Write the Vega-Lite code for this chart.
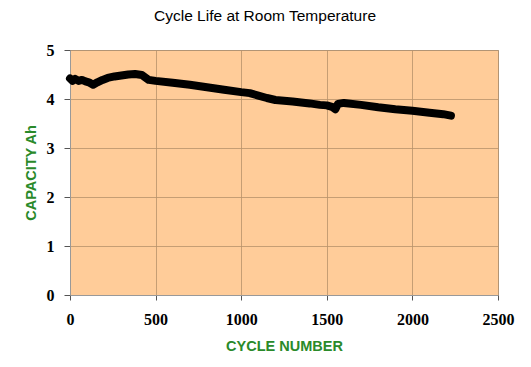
{
  "$schema": "https://vega.github.io/schema/vega-lite/v6.json",
  "width": 428,
  "height": 245,
  "autosize": "none",
  "padding": {"left": 70, "top": 50, "right": 33, "bottom": 72},
  "background": "white",
  "title": {
    "text": "Cycle Life at Room Temperature",
    "font": "Liberation Sans",
    "fontSize": 15.5,
    "fontWeight": "normal",
    "color": "black",
    "dx": -19,
    "offset": 18
  },
  "config": {
    "view": {"fill": "#FFCC99", "stroke": "#999999", "strokeWidth": 1}
  },
  "data": {
    "values": [
      {"cycle": 0, "capacity": 4.42},
      {"cycle": 15, "capacity": 4.37},
      {"cycle": 30, "capacity": 4.41},
      {"cycle": 50, "capacity": 4.37},
      {"cycle": 70, "capacity": 4.39},
      {"cycle": 90, "capacity": 4.36},
      {"cycle": 110, "capacity": 4.34},
      {"cycle": 135, "capacity": 4.29},
      {"cycle": 160, "capacity": 4.34},
      {"cycle": 190, "capacity": 4.39},
      {"cycle": 220, "capacity": 4.43},
      {"cycle": 260, "capacity": 4.46},
      {"cycle": 300, "capacity": 4.48},
      {"cycle": 340, "capacity": 4.50},
      {"cycle": 380, "capacity": 4.51},
      {"cycle": 420, "capacity": 4.49},
      {"cycle": 440, "capacity": 4.44},
      {"cycle": 460, "capacity": 4.39},
      {"cycle": 500, "capacity": 4.37},
      {"cycle": 600, "capacity": 4.33},
      {"cycle": 700, "capacity": 4.29},
      {"cycle": 800, "capacity": 4.24},
      {"cycle": 900, "capacity": 4.19},
      {"cycle": 1000, "capacity": 4.14},
      {"cycle": 1050, "capacity": 4.12},
      {"cycle": 1100, "capacity": 4.07},
      {"cycle": 1150, "capacity": 4.02},
      {"cycle": 1200, "capacity": 3.98},
      {"cycle": 1300, "capacity": 3.95},
      {"cycle": 1400, "capacity": 3.91},
      {"cycle": 1460, "capacity": 3.88},
      {"cycle": 1500, "capacity": 3.87},
      {"cycle": 1530, "capacity": 3.84},
      {"cycle": 1550, "capacity": 3.79},
      {"cycle": 1565, "capacity": 3.9},
      {"cycle": 1600, "capacity": 3.92},
      {"cycle": 1700, "capacity": 3.88},
      {"cycle": 1800, "capacity": 3.83},
      {"cycle": 1900, "capacity": 3.79},
      {"cycle": 2000, "capacity": 3.76},
      {"cycle": 2100, "capacity": 3.72},
      {"cycle": 2180, "capacity": 3.69},
      {"cycle": 2225, "capacity": 3.66}
    ]
  },
  "mark": {"type": "line", "color": "black", "strokeWidth": 8, "strokeCap": "round", "strokeJoin": "round"},
  "encoding": {
    "x": {
      "field": "cycle",
      "type": "quantitative",
      "scale": {"domain": [0, 2500], "nice": false},
      "axis": {
        "values": [0, 500, 1000, 1500, 2000, 2500],
        "format": "d",
        "title": "CYCLE NUMBER",
        "titleFont": "Liberation Sans",
        "titleFontSize": 14.5,
        "titleFontWeight": "bold",
        "titleColor": "#2A8A2A",
        "titlePadding": 12,
        "labelFont": "Liberation Serif",
        "labelFontSize": 16,
        "labelFontWeight": "bold",
        "labelColor": "black",
        "labelPadding": 11,
        "tickColor": "#555555",
        "tickSize": 5,
        "domainColor": "#999999",
        "gridColor": "#B8926A",
        "gridOpacity": 0.8,
        "labelFlush": false
      }
    },
    "y": {
      "field": "capacity",
      "type": "quantitative",
      "scale": {"domain": [0, 5], "nice": false},
      "axis": {
        "values": [0, 1, 2, 3, 4, 5],
        "title": "CAPACITY  Ah",
        "titleFont": "Liberation Sans",
        "titleFontSize": 14.5,
        "titleFontWeight": "bold",
        "titleColor": "#2A8A2A",
        "titlePadding": 8,
        "labelFont": "Liberation Serif",
        "labelFontSize": 16,
        "labelFontWeight": "bold",
        "labelColor": "black",
        "labelPadding": 10,
        "tickColor": "#555555",
        "tickSize": 6,
        "domainColor": "#999999",
        "gridColor": "#B8926A",
        "gridOpacity": 0.8
      }
    }
  }
}
